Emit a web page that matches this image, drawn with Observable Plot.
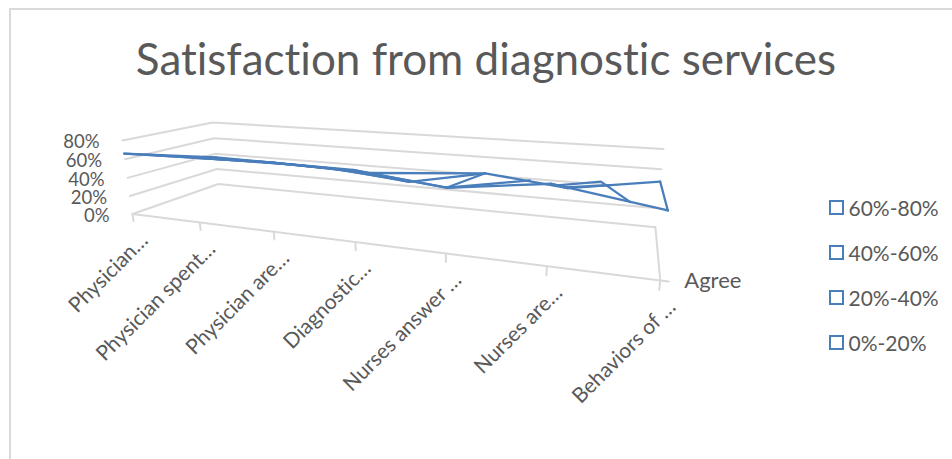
<!DOCTYPE html>
<html>
<head>
<meta charset="utf-8">
<script src="https://cdn.jsdelivr.net/npm/d3@7"></script>
<script src="https://cdn.jsdelivr.net/npm/@observablehq/plot@0.6"></script>
<style>
  html, body { margin: 0; padding: 0; background: #fff; }
  #chart { position: relative; width: 952px; height: 459px; overflow: hidden; font-family: Lato, sans-serif; color: #595959; font-variant-ligatures: none; }
  #frame { position: absolute; left: 9px; top: 8px; right: -4px; bottom: -4px; border: 2px solid #d9d9d9; }
  #title { position: absolute; left: 0; width: 972px; top: 31px; text-align: center; font-size: 44px; line-height: 54px; font-weight: 400; white-space: nowrap; }
  #legend { position: absolute; left: 829px; top: 185px; font-size: 21px; }
  .row { height: 45px; line-height: 44px; display: flex; align-items: center; white-space: nowrap; }
  .swatch { width: 10.5px; height: 10.5px; border: 2.5px solid #4a7ebb; margin-right: 5px; background: #fff; }
  svg { position: absolute; left: 0; top: 0; }
</style>
</head>
<body>
<div id="chart">
  <div id="frame"></div>
  <div id="title"></div>
  <div id="legend"></div>
</div>
<script>
const titleText = "Satisfaction from diagnostic services";
const categories = ["Physician…", "Physician spent…", "Physician are…", "Diagnostic…", "Nurses answer …", "Nurses are…", "Behaviors of …"];
const depthLabel = "Agree";
const valueTicks = [0, 20, 40, 60, 80];
const legendLabels = ["60%-80%", "40%-60%", "20%-40%", "0%-20%"];
// Surface heights: the labelled front row and the row behind it (percent)
const frontValues = [66, 68, 69.5, 69, 60, 71, 57.5];
const backValues = [35, 34.5, 33, 25, 42, 33, 47.5];
const contourLevels = [40, 60];
// Band-edge polylines across the last cells: [category, depth, percent]
const bandEdges = [
  [[3, 0.23, 59], [4, 1, 42]],
  [[4, 0, 60], [4.55, 1, 38]],
  [[5, 0.29, 60], [5.4, 0.48, 60], [5.69, 0, 61.5]],
  [[5, 0.82, 40], [5.48, 1, 40]],
  [[3, 0.2, 60], [4, 0, 60]]
];

// Camera of the 3-D view: category 0..6, depth 0..1, value 0..80
function project(c, d, v) {
  const u = v / 80;
  const w = 1 - 0.0448 * c + 0.2048 * d - 0.0325 * u;
  return [
    (132 + 58.4 * c + 130.6 * d - 13.97 * u) / w,
    (213.5 - 1.46 * c + 7.58 * d - 78.05 * u) / w
  ];
}
const px = p => project(p.c, p.d, p.v)[0];
const py = p => project(p.c, p.d, p.v)[1];

const last = categories.length - 1;
const grid = valueTicks.flatMap(v => [
  {c: 0, d: 0, v, k: v}, {c: 0, d: 1, v, k: v}, {c: last, d: 1, v, k: v}
]);
const floorEdges = [
  {c: 0, d: 0, v: 0, k: "front"}, {c: last, d: 0, v: 0, k: "front"},
  {c: last, d: 0, v: 0, k: "side"}, {c: last, d: 1, v: 0, k: "side"},
  {c: last, d: 0, v: 0, k: "tick"}, {c: last + 0.07, d: 0, v: 0, k: "tick"}
];
const catTicks = categories.flatMap((name, c) => [
  {c, d: 0, v: 0, k: c}, {c, d: 0, v: -8, k: c}
]);

const front = frontValues.map((v, c) => ({c, d: 0, v, k: "front"}));
const back = backValues.map((v, c) => ({c, d: 1, v, k: "back"}));
const rungs = categories.flatMap((name, c) => [
  {c, d: 0, v: frontValues[c], k: "r" + c}, {c, d: 1, v: backValues[c], k: "r" + c}
]);
const contours = contourLevels.flatMap(v => [0, 1, 2, 3].map(c => ({
  c, d: (frontValues[c] - v) / (frontValues[c] - backValues[c]), v, k: "lvl" + v
})));
const edges = bandEdges.flatMap((pts, i) => pts.map(([c, d, v]) => ({c, d, v, k: "e" + i})));
const ribbon = categories.map((name, c) => {
  const a = {c, d: 0, v: frontValues[c]}, b = {c, d: 1, v: backValues[c]};
  return {x1: px(a), y1: py(a), x2: px(b), y2: py(b)};
});

const gridColor = "#d9d9d9", blue = "#4a7ebb", ink = "#595959";
const lineWidth = 2.3, gridWidth = 2;
const svg = Plot.plot({
  width: 952, height: 459,
  marginLeft: 0, marginRight: 0, marginTop: 0, marginBottom: 0,
  x: {axis: null, domain: [0, 952], range: [0, 952]},
  y: {axis: null, domain: [0, 459], range: [0, 459]},
  style: {background: "transparent", fontFamily: "Lato, sans-serif", overflow: "visible", fontVariantLigatures: "none"},
  marks: [
    Plot.line(grid, {x: px, y: py, z: "k", stroke: gridColor, strokeWidth: gridWidth}),
    Plot.line(floorEdges, {x: px, y: py, z: "k", stroke: gridColor, strokeWidth: gridWidth}),
    Plot.line(catTicks, {x: px, y: py, z: "k", stroke: gridColor, strokeWidth: gridWidth}),
    Plot.area(ribbon, {x1: "x1", y1: "y1", x2: "x2", y2: "y2", fill: "white"}),
    Plot.line(rungs, {x: px, y: py, z: "k", stroke: blue, strokeWidth: lineWidth}),
    Plot.line(contours, {x: px, y: py, z: "k", stroke: blue, strokeWidth: lineWidth}),
    Plot.line(edges, {x: px, y: py, z: "k", stroke: blue, strokeWidth: lineWidth}),
    Plot.line(back, {x: px, y: py, stroke: blue, strokeWidth: lineWidth}),
    Plot.line(front, {x: px, y: py, stroke: blue, strokeWidth: lineWidth}),
    Plot.text(valueTicks, {
      x: v => project(0, 0, v)[0], y: v => project(0, 0, v)[1],
      text: v => v + "%", textAnchor: "end", dx: -23, dy: 2, fontSize: 18.5, fill: ink
    }),
    Plot.text(categories, {
      x: (n, c) => project(c, 0, 0)[0], y: (n, c) => project(c, 0, 0)[1],
      text: n => n, rotate: -45, textAnchor: "end", lineAnchor: "middle",
      dx: 12, dy: 23, fontSize: 21, fill: ink
    }),
    Plot.text([depthLabel], {
      x: project(last, 0, 0)[0], y: project(last, 0, 0)[1],
      text: n => n, textAnchor: "start", dx: 24, dy: 0, fontSize: 22, fill: ink
    })
  ]
});
const chart = document.getElementById("chart");
chart.appendChild(svg);
document.getElementById("title").textContent = titleText;
const legend = document.getElementById("legend");
legendLabels.forEach(label => {
  const row = document.createElement("div");
  row.className = "row";
  const sw = document.createElement("span");
  sw.className = "swatch";
  const tx = document.createElement("span");
  tx.textContent = label;
  row.append(sw, tx);
  legend.appendChild(row);
});
</script>
</body>
</html>
